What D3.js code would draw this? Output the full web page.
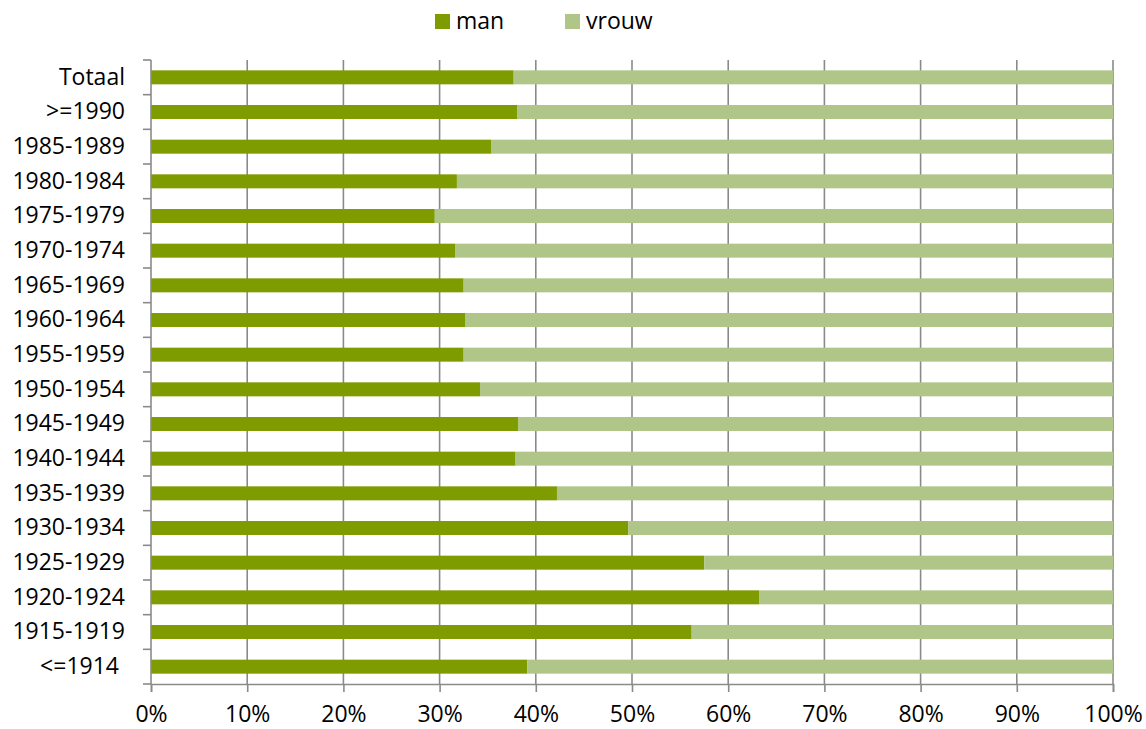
<!DOCTYPE html>
<html>
<head>
<meta charset="utf-8">
<script src="https://cdn.jsdelivr.net/npm/d3@7"></script>
<style>
  html, body { margin: 0; padding: 0; background: #fff; }
  svg text { font-family: "Open Sans", "Liberation Sans", sans-serif; fill: #000; white-space: pre; }
</style>
</head>
<body>
<svg id="chart" width="1146" height="729"></svg>
<script>
// Birth cohorts, top to bottom
const categories = ["Totaal", ">=1990", "1985-1989", "1980-1984", "1975-1979", "1970-1974",
  "1965-1969", "1960-1964", "1955-1959", "1950-1954", "1945-1949", "1940-1944",
  "1935-1939", "1930-1934", "1925-1929", "1920-1924", "1915-1919", "<=1914 "];

// Share of men per cohort (%); women make up the rest
const manShare = [37.7, 38.1, 35.4, 31.8, 29.5, 31.6, 32.5, 32.7, 32.5, 34.2,
  38.2, 37.9, 42.2, 49.6, 57.5, 63.2, 56.2, 39.1];
const vrouwShare = manShare.map(v => 100 - v);

const seriesNames = ["man", "vrouw"];
const seriesColors = ["#7e9b00", "#b0c688"];
const xTicks = [0, 10, 20, 30, 40, 50, 60, 70, 80, 90, 100];

const svg = d3.select("#chart");
const plotLeft = 151, plotRight = 1113, plotTop = 60, plotBottom = 684;

const x = d3.scaleLinear().domain([0, 100]).range([plotLeft, plotRight]);
const y = d3.scaleBand().domain(categories).range([plotTop, plotBottom])
  .paddingInner(0.596).paddingOuter(0.298);

// Vertical gridlines
svg.append("g").selectAll("line").data(xTicks.slice(1)).join("line")
  .attr("x1", d => x(d)).attr("x2", d => x(d))
  .attr("y1", plotTop).attr("y2", plotBottom)
  .attr("stroke", "#8a8a8a").attr("stroke-width", 1.6);

// Stacked bars
const rows = categories.map((c, i) => ({ cat: c, man: manShare[i], vrouw: vrouwShare[i] }));
const stack = d3.stack().keys(seriesNames)(rows);
const color = d3.scaleOrdinal().domain(seriesNames).range(seriesColors);

svg.append("g").selectAll("g").data(stack).join("g")
  .attr("fill", d => color(d.key))
  .selectAll("rect").data(d => d).join("rect")
  .attr("x", d => x(d[0]))
  .attr("width", d => x(d[1]) - x(d[0]))
  .attr("y", d => y(d.data.cat))
  .attr("height", y.bandwidth());

// X axis
const xAxis = svg.append("g").attr("transform", `translate(0,${plotBottom})`)
  .call(d3.axisBottom(x).tickValues(xTicks).tickFormat(d => d + "%").tickSize(8).tickPadding(14));
xAxis.attr("font-family", null);
xAxis.select(".domain").attr("stroke", "#8a8a8a").attr("stroke-width", 1.6);
xAxis.selectAll(".tick line").attr("stroke", "#8a8a8a").attr("stroke-width", 1.6);
xAxis.selectAll(".tick text").attr("font-size", 23).attr("fill", "#000");

// Y axis: ticks sit on the band boundaries
const yAxis = svg.append("g").attr("transform", `translate(${plotLeft},0)`)
  .call(d3.axisLeft(y).tickSize(0).tickPadding(26));
yAxis.attr("font-family", null);
yAxis.select(".domain").remove();
yAxis.selectAll(".tick text").attr("font-size", 23).attr("fill", "#000");
svg.append("line").attr("x1", plotLeft).attr("x2", plotLeft).attr("y1", plotTop).attr("y2", plotBottom)
  .attr("stroke", "#8a8a8a").attr("stroke-width", 1.6);
const step = y.step();
svg.append("g").selectAll("line").data(d3.range(categories.length + 1)).join("line")
  .attr("x1", plotLeft - 8).attr("x2", plotLeft)
  .attr("y1", i => plotTop + i * step).attr("y2", i => plotTop + i * step)
  .attr("stroke", "#8a8a8a").attr("stroke-width", 1.6);

// Legend
const legendX = [435, 565];
const legend = svg.append("g").selectAll("g").data(seriesNames).join("g")
  .attr("transform", (d, i) => `translate(${legendX[i]},14)`);
legend.append("rect").attr("width", 15).attr("height", 15).attr("fill", d => color(d));
legend.append("text").attr("x", 21).attr("y", 15).attr("font-size", 23).text(d => d);
</script>
</body>
</html>
